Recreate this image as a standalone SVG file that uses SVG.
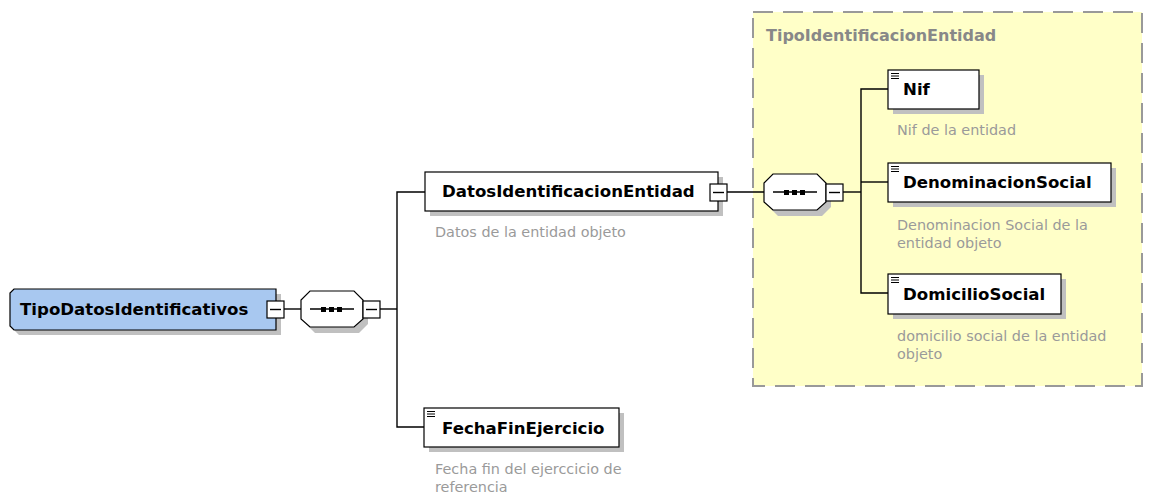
<svg xmlns="http://www.w3.org/2000/svg" width="1150" height="497" viewBox="0 0 1150 497">
<style>
.shadow{fill:#c0c0c0}
.box{fill:#fff;stroke:#000;stroke-width:1.2}
.root{fill:#a8c8f0;stroke:#000;stroke-width:1.2}
.oct{fill:#fff;stroke:#000;stroke-width:1.2}
.name{font-family:"DejaVu Sans",Verdana,sans-serif;font-weight:bold;font-size:16.6px;fill:#000}
.desc{font-family:"DejaVu Sans",Verdana,sans-serif;font-size:14.4px;fill:#9a9a9a}
.grp{font-family:"DejaVu Sans",Verdana,sans-serif;font-weight:bold;font-size:16px;fill:#888}
.ln{stroke:#000;stroke-width:1.4;fill:none}
.mbox{fill:#fff;stroke:#000;stroke-width:1.2}
.icon{stroke:#000;stroke-width:1}
</style>
<defs>
<g id="minus"><rect class="mbox" x="0" y="0" width="17" height="17"/><line class="ln" x1="3" y1="8.5" x2="14" y2="8.5"/></g>
<g id="seq">
<polygon class="shadow" points="14,5 58,5 67,14 67,33 58,42 14,42 5,33 5,14"/>
<polygon class="oct" points="9,0 53,0 62,9 62,28 53,36 9,36 0,28 0,9"/>
<line class="ln" x1="9" y1="18" x2="53" y2="18"/>
<rect x="20" y="16" width="5" height="5" fill="#000"/>
<rect x="28" y="16" width="5" height="5" fill="#000"/>
<rect x="36" y="16" width="5" height="5" fill="#000"/>
</g>
<g id="ico"><line class="icon" x1="3" y1="3.5" x2="11" y2="3.5"/><line class="icon" x1="3" y1="6" x2="11" y2="6"/><line class="icon" x1="3" y1="8.5" x2="11" y2="8.5"/></g>
</defs>

<g id="group-TipoIdentificacionEntidad">
<rect x="753" y="12" width="389" height="374" fill="#ffffc8" stroke="#999" stroke-width="2" stroke-dasharray="20 10"/>
<text class="grp" x="766" y="41">TipoIdentificacionEntidad</text>
</g>

<g id="connectors">
<path class="ln" d="M284 309H301"/>
<path class="ln" d="M380 309H397"/>
<path class="ln" d="M425 192H397V427H424"/>
<path class="ln" d="M727 192H764"/>
<path class="ln" d="M843 192H861"/>
<path class="ln" d="M888 89H861V293H888"/>
<path class="ln" d="M861 182H888"/>
</g>

<g id="node-TipoDatosIdentificativos">
<polygon class="shadow" points="19,294 281,294 281,335 19,335 15,331 15,298"/>
<polygon class="root" points="14,289 276,289 276,330 14,330 10,326 10,293"/>
<text class="name" x="20" y="315">TipoDatosIdentificativos</text>
<use href="#minus" x="267" y="301"/>
</g>

<g id="node-sequence1">
<use href="#seq" x="301" y="291"/>
<use href="#minus" x="363" y="301"/>
</g>

<g id="node-DatosIdentificacionEntidad">
<rect class="shadow" x="430" y="177" width="293" height="39"/>
<rect class="box" x="425" y="172" width="293" height="39"/>
<text class="name" x="442" y="197">DatosIdentificacionEntidad</text>
<use href="#minus" x="710" y="184"/>
<text class="desc" x="435" y="237">Datos de la entidad objeto</text>
</g>

<g id="node-sequence2">
<use href="#seq" x="764" y="174"/>
<use href="#minus" x="826" y="184"/>
</g>

<g id="node-Nif">
<rect class="shadow" x="893" y="75" width="91" height="39"/>
<rect class="box" x="888" y="70" width="91" height="39"/>
<use href="#ico" x="888" y="70"/>
<text class="name" x="903" y="95">Nif</text>
<text class="desc" x="897" y="135">Nif de la entidad</text>
</g>

<g id="node-DenominacionSocial">
<rect class="shadow" x="893" y="168" width="223" height="39"/>
<rect class="box" x="888" y="163" width="223" height="39"/>
<use href="#ico" x="888" y="163"/>
<text class="name" x="903" y="188">DenominacionSocial</text>
<text class="desc" x="897" y="230">Denominacion Social de la</text>
<text class="desc" x="897" y="248">entidad objeto</text>
</g>

<g id="node-DomicilioSocial">
<rect class="shadow" x="893" y="279" width="173" height="40"/>
<rect class="box" x="888" y="274" width="173" height="40"/>
<use href="#ico" x="888" y="274"/>
<text class="name" x="903" y="300">DomicilioSocial</text>
<text class="desc" x="897" y="341">domicilio social de la entidad</text>
<text class="desc" x="897" y="359">objeto</text>
</g>

<g id="node-FechaFinEjercicio">
<rect class="shadow" x="429" y="413" width="195" height="39"/>
<rect class="box" x="424" y="408" width="195" height="39"/>
<use href="#ico" x="424" y="408"/>
<text class="name" x="442" y="434">FechaFinEjercicio</text>
<text class="desc" x="435" y="474">Fecha fin del ejerccicio de</text>
<text class="desc" x="435" y="492">referencia</text>
</g>
</svg>
